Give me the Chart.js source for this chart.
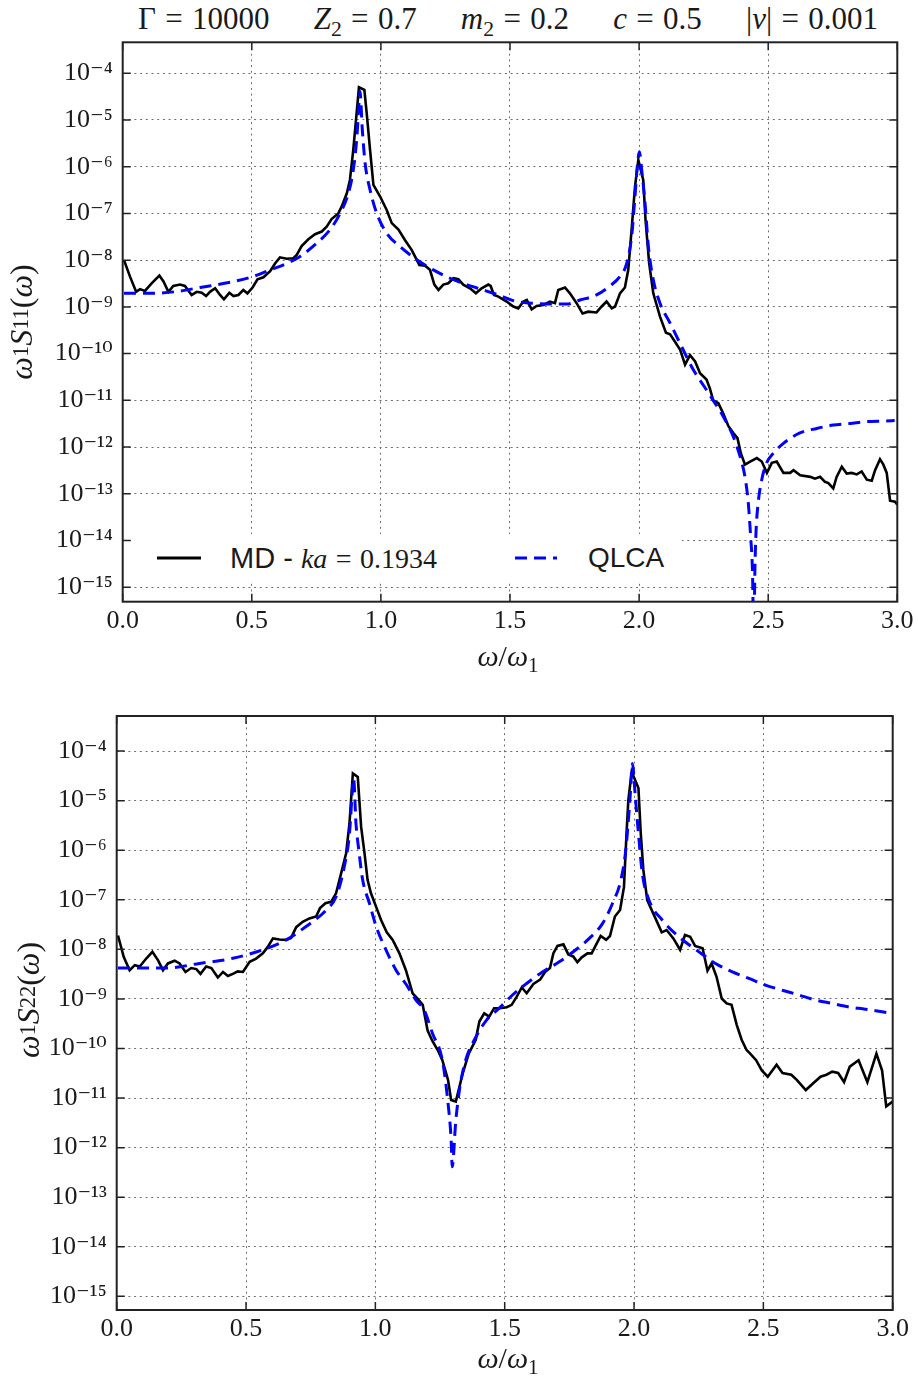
<!DOCTYPE html>
<html>
<head>
<meta charset="utf-8">
<script src="https://cdn.jsdelivr.net/npm/chart.js@4.4.1/dist/chart.umd.min.js"></script>
<style>
  body { margin: 0; background: #fff; }
  #page { position: relative; width: 918px; height: 1380px; overflow: hidden;
          font-family: "Liberation Serif", "DejaVu Serif", serif; color: #1a1a1a; }
  canvas { position: absolute; left: 0; }
  sub { font-size: 0.7em; vertical-align: -0.3em; line-height: 0; font-style: normal; }
  .eq { margin: 0 0.3em; }
  #title { position: absolute; left: 138px; width: 740px; top: 0; height: 38px;
           display: flex; justify-content: space-between; align-items: center;
           font-size: 31px; white-space: nowrap; }
  .xtitle { position: absolute; left: 358px; width: 300px; height: 34px; line-height: 34px;
            text-align: center; font-size: 30px; }
  .ytitle { position: absolute; width: 240px; height: 40px; display: flex;
            align-items: center; justify-content: center; transform: rotate(-90deg);
            font-size: 32px; white-space: nowrap; }
  #legend { position: absolute; left: 133px; top: 534px; width: 549px; height: 49px; background: #fff; }
  #legend svg { position: absolute; top: 20px; }
  #legend .lt { position: absolute; top: 6px; height: 36px; line-height: 36px; font-size: 28px; white-space: nowrap; }
  .sans { font-family: "Liberation Sans", "DejaVu Sans", sans-serif; font-size: 29px; }
</style>
</head>
<body>
<div id="page">
  <div id="title">
    <span>Γ<span class="eq">=</span>10000</span>
    <span><i>Z</i><sub>2</sub><span class="eq">=</span>0.7</span>
    <span><i>m</i><sub>2</sub><span class="eq">=</span>0.2</span>
    <span><i>c</i><span class="eq">=</span>0.5</span>
    <span>|<i>ν</i>|<span class="eq">=</span>0.001</span>
  </div>

  <canvas id="s11" width="918" height="680" style="top:0"></canvas>
  <canvas id="s22" width="918" height="690" style="top:690px"></canvas>

  <div class="ytitle" style="left:-99px; top:302px"><i>ω</i><sub>1</sub><i>S</i><sub>11</sub>(<i>ω</i>)</div>
  <div class="xtitle" style="top:639px"><i>ω</i>/<i>ω</i><sub>1</sub></div>
  <div class="ytitle" style="left:-92px; top:980px"><i>ω</i><sub>1</sub><i>S</i><sub>22</sub>(<i>ω</i>)</div>
  <div class="xtitle" style="top:1341px"><i>ω</i>/<i>ω</i><sub>1</sub></div>

  <div id="legend">
    <svg style="left:24px" width="44" height="8"><line x1="0" y1="4" x2="44" y2="4" stroke="#000" stroke-width="3"/></svg>
    <span class="lt" style="left:97px"><span class="sans">MD - </span><i>ka</i><span class="eq">=</span>0.1934</span>
    <svg style="left:382px" width="42" height="8"><line x1="0" y1="4" x2="42" y2="4" stroke="#0000ff" stroke-width="3" stroke-dasharray="12 7"/></svg>
    <span class="lt sans" style="left:455px">QLCA</span>
  </div>
</div>

<script>
// axis ticks (log decades on y, half-steps on x)
const yTickVals = [1e-15, 1e-14, 1e-13, 1e-12, 1e-11, 1e-10, 1e-9, 1e-8, 1e-7, 1e-6, 1e-5, 1e-4];
const yTickLabels = ['10⁻¹⁵', '10⁻¹⁴', '10⁻¹³', '10⁻¹²', '10⁻¹¹', '10⁻¹⁰', '10⁻⁹', '10⁻⁸', '10⁻⁷', '10⁻⁶', '10⁻⁵', '10⁻⁴'];
const xTickVals = [0, 0.5, 1, 1.5, 2, 2.5, 3];
const xTickLabels = ['0.0', '0.5', '1.0', '1.5', '2.0', '2.5', '3.0'];

// S11: MD spectrum
const s11MdW = [0.005, 0.028, 0.052, 0.067, 0.086, 0.112, 0.142, 0.158, 0.177, 0.196,
  0.222, 0.241, 0.267, 0.287, 0.306, 0.323, 0.338, 0.358, 0.377, 0.392,
  0.413, 0.429, 0.448, 0.467, 0.483, 0.503, 0.522, 0.545, 0.571, 0.590,
  0.609, 0.635, 0.661, 0.674, 0.693, 0.719, 0.745, 0.771, 0.790, 0.809,
  0.835, 0.848, 0.868, 0.880, 0.893, 0.906, 0.915, 0.936, 0.945, 0.958,
  0.971, 0.997, 1.022, 1.042, 1.068, 1.093, 1.119, 1.149, 1.171, 1.190,
  1.207, 1.223, 1.242, 1.261, 1.281, 1.300, 1.319, 1.345, 1.368, 1.390,
  1.416, 1.425, 1.438, 1.455, 1.487, 1.513, 1.532, 1.552, 1.565, 1.584,
  1.603, 1.629, 1.655, 1.674, 1.687, 1.713, 1.732, 1.758, 1.781, 1.803,
  1.835, 1.855, 1.874, 1.894, 1.907, 1.926, 1.945, 1.958, 1.971, 1.984,
  1.997, 2.016, 2.025, 2.039, 2.055, 2.081, 2.104, 2.120, 2.139, 2.159,
  2.178, 2.197, 2.217, 2.236, 2.261, 2.274, 2.287, 2.307, 2.326, 2.346,
  2.365, 2.381, 2.394, 2.410, 2.430, 2.456, 2.475, 2.495, 2.514, 2.533,
  2.559, 2.585, 2.598, 2.624, 2.663, 2.681, 2.701, 2.720, 2.733, 2.752,
  2.765, 2.785, 2.804, 2.823, 2.843, 2.862, 2.882, 2.901, 2.914, 2.933,
  2.946, 2.959, 2.972, 2.991, 3.000];
const s11MdS = [1.0e-8, 4.5e-9, 2.1e-9, 2.4e-9, 2.2e-9, 3.2e-9, 4.7e-9, 3.5e-9, 2.1e-9, 2.8e-9,
  3.0e-9, 2.8e-9, 1.8e-9, 2.1e-9, 2.0e-9, 1.7e-9, 2.1e-9, 2.5e-9, 1.8e-9, 1.45e-9,
  2.0e-9, 1.7e-9, 1.8e-9, 2.3e-9, 1.95e-9, 2.6e-9, 3.9e-9, 4.3e-9, 5.8e-9, 8.5e-9,
  1.15e-8, 1.07e-8, 1.1e-8, 1.3e-8, 2.0e-8, 2.8e-8, 3.6e-8, 4.1e-8, 5.2e-8, 7.6e-8,
  1.0e-7, 1.4e-7, 2.7e-7, 5.2e-7, 2.3e-6, 1.4e-5, 5.0e-5, 4.4e-5, 1.4e-5, 2.3e-6,
  4.1e-7, 2.3e-7, 1.2e-7, 6.2e-8, 4.5e-8, 2.7e-8, 1.66e-8, 7.9e-9, 7.6e-9, 6.2e-9,
  3.0e-9, 2.3e-9, 3.0e-9, 3.2e-9, 4.1e-9, 3.9e-9, 3.0e-9, 2.5e-9, 1.95e-9, 2.5e-9,
  3.0e-9, 2.8e-9, 1.8e-9, 1.66e-9, 1.3e-9, 1.02e-9, 9.3e-10, 1.3e-9, 1.4e-9, 8.9e-10,
  1.05e-9, 1.1e-9, 1.3e-9, 1.2e-9, 2.3e-9, 2.6e-9, 1.95e-9, 1.2e-9, 7.2e-10, 7.9e-10,
  7.6e-10, 1.02e-9, 1.3e-9, 9.3e-10, 1.02e-9, 1.95e-9, 2.6e-9, 6.2e-9, 4.5e-8, 3.7e-7,
  1.4e-6, 5.2e-7, 7.2e-8, 8.5e-9, 1.95e-9, 6.2e-10, 2.8e-10, 2.6e-10, 1.8e-10, 1.2e-10,
  5.8e-11, 9.3e-11, 6.8e-11, 3.8e-11, 2.8e-11, 1.8e-11, 1.0e-11, 8.7e-12, 5.2e-12, 2.8e-12,
  2.0e-12, 1.55e-12, 7.4e-13, 4.2e-13, 4.9e-13, 5.8e-13, 4.9e-13, 2.8e-13, 4.6e-13, 4.9e-13,
  2.8e-13, 2.8e-13, 3.2e-13, 2.5e-13, 2.3e-13, 2.1e-13, 2.3e-13, 1.8e-13, 1.7e-13, 1.3e-13,
  2.3e-13, 3.8e-13, 2.7e-13, 2.8e-13, 2.6e-13, 3.0e-13, 2.0e-13, 1.9e-13, 3.2e-13, 5.5e-13,
  4.2e-13, 2.8e-13, 7.1e-14, 6.8e-14, 5.8e-14];

// S11: QLCA prediction
const s11QlcaW = [0.005, 0.10, 0.20, 0.30, 0.43, 0.506, 0.571, 0.635, 0.687, 0.751,
  0.803, 0.842, 0.874, 0.893, 0.906, 0.917, 0.919, 0.928, 0.939, 0.958,
  0.984, 1.022, 1.074, 1.139, 1.203, 1.268, 1.332, 1.397, 1.455, 1.526,
  1.59, 1.655, 1.72, 1.771, 1.835, 1.887, 1.926, 1.952, 1.971, 1.984,
  1.994, 2.001, 2.010, 2.023, 2.036, 2.055, 2.081, 2.12, 2.165, 2.21,
  2.249, 2.287, 2.326, 2.365, 2.391, 2.410, 2.423, 2.432, 2.439, 2.444,
  2.449, 2.453, 2.461, 2.475, 2.494, 2.520, 2.559, 2.623, 2.688, 2.752,
  2.817, 2.882, 2.953, 2.99];
const s11QlcaS = [1.95e-9, 1.95e-9, 2.1e-9, 2.6e-9, 3.5e-9, 4.5e-9, 6.2e-9, 8.5e-9, 1.2e-8, 2.3e-8,
  4.5e-8, 1.0e-7, 2.7e-7, 8.5e-7, 3.7e-6, 3.2e-5, 4.1e-5, 6.2e-6, 1.17e-6, 3.2e-7,
  1.0e-7, 3.8e-8, 1.95e-8, 1.02e-8, 6.2e-9, 4.1e-9, 3.0e-9, 2.3e-9, 1.8e-9, 1.3e-9,
  1.2e-9, 1.15e-9, 1.15e-9, 1.4e-9, 1.8e-9, 2.8e-9, 4.5e-9, 8.5e-9, 3.2e-8, 2.3e-7,
  1.17e-6, 2.1e-6, 8.5e-7, 1.66e-7, 1.95e-8, 3.8e-9, 1.2e-9, 4.5e-10, 1.4e-10, 4.5e-11,
  2.1e-11, 1.0e-11, 4.5e-12, 1.66e-12, 6.3e-13, 2.3e-13, 6.3e-14, 1.2e-14, 2.3e-15, 1.0e-16,
  3.2e-15, 1.6e-14, 6.3e-14, 2.0e-13, 4.6e-13, 7.4e-13, 1.2e-12, 2.0e-12, 2.5e-12, 2.95e-12,
  3.2e-12, 3.5e-12, 3.6e-12, 3.7e-12];

// S22: MD spectrum
const s22MdW = [0.005, 0.027, 0.050, 0.070, 0.089, 0.115, 0.138, 0.160, 0.179, 0.198,
  0.224, 0.243, 0.266, 0.288, 0.308, 0.324, 0.346, 0.366, 0.391, 0.411,
  0.430, 0.449, 0.468, 0.488, 0.514, 0.539, 0.565, 0.584, 0.604, 0.629,
  0.655, 0.674, 0.694, 0.719, 0.745, 0.771, 0.786, 0.807, 0.829, 0.848,
  0.871, 0.887, 0.900, 0.913, 0.932, 0.945, 0.958, 0.970, 0.983, 1.003,
  1.022, 1.044, 1.067, 1.093, 1.118, 1.144, 1.163, 1.183, 1.202, 1.221,
  1.241, 1.259, 1.281, 1.293, 1.311, 1.338, 1.361, 1.388, 1.402, 1.421,
  1.440, 1.459, 1.479, 1.508, 1.527, 1.546, 1.566, 1.585, 1.611, 1.637,
  1.656, 1.675, 1.688, 1.704, 1.727, 1.746, 1.765, 1.781, 1.798, 1.820,
  1.836, 1.856, 1.871, 1.892, 1.907, 1.926, 1.946, 1.961, 1.971, 1.978,
  1.991, 2.004, 2.017, 2.026, 2.036, 2.051, 2.075, 2.107, 2.126, 2.152,
  2.178, 2.197, 2.217, 2.236, 2.265, 2.284, 2.300, 2.319, 2.339, 2.358,
  2.377, 2.397, 2.416, 2.435, 2.449, 2.472, 2.494, 2.517, 2.551, 2.574,
  2.608, 2.630, 2.664, 2.698, 2.721, 2.744, 2.766, 2.789, 2.812, 2.834,
  2.868, 2.902, 2.937, 2.959, 2.975, 3.000];
const s22MdS = [1.9e-8, 7.1e-9, 3.8e-9, 4.8e-9, 4.5e-9, 6.6e-9, 8.9e-9, 6.0e-9, 3.8e-9, 5.2e-9,
  5.9e-9, 5.2e-9, 3.5e-9, 4.2e-9, 4.0e-9, 3.2e-9, 4.5e-9, 4.2e-9, 2.7e-9, 3.5e-9,
  2.9e-9, 3.2e-9, 3.6e-9, 3.5e-9, 5.6e-9, 6.5e-9, 8.3e-9, 1.12e-8, 1.66e-8, 1.58e-8,
  1.55e-8, 1.7e-8, 2.8e-8, 3.6e-8, 4.2e-8, 4.6e-8, 6.8e-8, 8.5e-8, 9.1e-8, 1.35e-7,
  4.0e-7, 8.7e-7, 3.5e-6, 3.55e-5, 3.0e-5, 2.95e-6, 8.7e-7, 2.5e-7, 1.35e-7, 7.2e-8,
  3.9e-8, 2.2e-8, 1.55e-8, 8.3e-9, 3.8e-9, 1.3e-9, 1.02e-9, 7.6e-10, 2.3e-10, 1.4e-10,
  9.3e-11, 5.8e-11, 2.3e-11, 9.1e-12, 8.5e-12, 3.2e-11, 7.9e-11, 1.5e-10, 3.5e-10, 5.1e-10,
  4.4e-10, 6.5e-10, 6.5e-10, 6.8e-10, 7.6e-10, 1.1e-9, 1.7e-9, 1.3e-9, 2.0e-9, 2.45e-9,
  3.5e-9, 4.2e-9, 8.3e-9, 1.17e-8, 1.26e-8, 7.9e-9, 7.2e-9, 5.5e-9, 6.9e-9, 8.3e-9,
  8.3e-9, 1.32e-8, 1.86e-8, 1.55e-8, 1.86e-8, 4.6e-8, 6.2e-8, 1.8e-7, 2.2e-6, 1.02e-5,
  3.8e-5, 2.6e-5, 1.8e-5, 2.2e-6, 4.0e-7, 9.8e-8, 5.2e-8, 2.2e-8, 2.45e-8, 1.66e-8,
  9.8e-9, 1.95e-8, 1.8e-8, 1.17e-8, 1.05e-8, 3.7e-9, 5.2e-9, 2.8e-9, 1.02e-9, 8.1e-10,
  7.6e-10, 3.0e-10, 1.5e-10, 9.3e-11, 7.9e-11, 5.8e-11, 3.6e-11, 2.7e-11, 4.7e-11, 3.2e-11,
  2.95e-11, 2.3e-11, 1.45e-11, 2.1e-11, 2.7e-11, 2.95e-11, 3.4e-11, 3.2e-11, 2.1e-11, 4.3e-11,
  5.8e-11, 2.1e-11, 7.9e-11, 3.6e-11, 6.8e-12, 8.5e-12];

// S22: QLCA prediction
const s22QlcaW = [0.005, 0.19, 0.32, 0.449, 0.565, 0.655, 0.732, 0.810, 0.848, 0.880,
  0.900, 0.913, 0.916, 0.925, 0.936, 0.951, 0.977, 1.003, 1.041, 1.080,
  1.118, 1.157, 1.189, 1.221, 1.259, 1.281, 1.293, 1.297, 1.311, 1.327,
  1.349, 1.383, 1.429, 1.479, 1.530, 1.582, 1.646, 1.711, 1.775, 1.827,
  1.878, 1.917, 1.949, 1.968, 1.984, 1.994, 2.004, 2.017, 2.032, 2.058,
  2.109, 2.174, 2.251, 2.315, 2.380, 2.444, 2.508, 2.573, 2.637, 2.701,
  2.766, 2.830, 2.894, 2.959, 2.99];
const s22QlcaS = [4.2e-9, 4.2e-9, 5.2e-9, 6.6e-9, 9.8e-9, 1.55e-8, 2.9e-8, 6.2e-8, 1.15e-7, 4.7e-7,
  2.2e-6, 2.2e-5, 2.8e-5, 3.5e-6, 1.0e-6, 2.5e-7, 8.5e-8, 2.9e-8, 9.8e-9, 3.8e-9,
  2.0e-9, 9.5e-10, 5.9e-10, 2.0e-10, 5.8e-11, 7.8e-12, 1.4e-12, 4.1e-13, 3.5e-12, 1.7e-11,
  5.8e-11, 1.5e-10, 3.7e-10, 6.5e-10, 1.2e-9, 2.0e-9, 3.5e-9, 5.6e-9, 9.8e-9, 1.66e-8,
  3.3e-8, 8.5e-8, 2.5e-7, 1.0e-6, 1.02e-5, 5.6e-5, 1.4e-5, 2.2e-6, 3.4e-7, 9.8e-8,
  3.9e-8, 1.78e-8, 8.9e-9, 5.2e-9, 3.5e-9, 2.6e-9, 1.9e-9, 1.5e-9, 1.2e-9, 9.5e-10,
  8.1e-10, 6.9e-10, 6.2e-10, 5.5e-10, 5.2e-10];

const gridColor = '#6e6e6e';
const tickFont = { family: '"Liberation Serif", "DejaVu Serif", serif', size: 26 };

function toPoints(w, s) {
  return w.map((x, i) => ({ x: x, y: s[i] }));
}

// black frame round the plot area with inward tick marks on all four sides
const frame = {
  id: 'frame',
  afterDatasetsDraw(chart) {
    const { ctx, chartArea: a, scales } = chart;
    ctx.save();
    ctx.strokeStyle = '#222';
    ctx.lineWidth = 1.5;
    ctx.beginPath();
    scales.x.ticks.forEach(t => {
      const px = scales.x.getPixelForValue(t.value);
      ctx.moveTo(px, a.bottom); ctx.lineTo(px, a.bottom - 8);
      ctx.moveTo(px, a.top); ctx.lineTo(px, a.top + 8);
    });
    scales.y.ticks.forEach(t => {
      const py = scales.y.getPixelForValue(t.value);
      ctx.moveTo(a.left, py); ctx.lineTo(a.left + 8, py);
      ctx.moveTo(a.right, py); ctx.lineTo(a.right - 8, py);
    });
    ctx.stroke();
    ctx.lineWidth = 2;
    ctx.strokeRect(a.left, a.top, a.right - a.left, a.bottom - a.top);
    ctx.restore();
  }
};

function drawPanel(id, box, md, qlca, yMin, yMax) {
  const canvas = document.getElementById(id);
  return new Chart(canvas, {
    type: 'line',
    data: {
      datasets: [
        { label: 'MD', data: md, borderColor: '#000', borderWidth: 2.6,
          pointRadius: 0, tension: 0, order: 2 },
        { label: 'QLCA', data: qlca, borderColor: '#0000ff', borderWidth: 3,
          borderDash: [12, 7], pointRadius: 0, cubicInterpolationMode: 'monotone', order: 1 }
      ]
    },
    options: {
      responsive: false,
      animation: false,
      devicePixelRatio: 1,
      layout: { padding: { left: 0, top: box.top, right: canvas.width - box.right, bottom: 0 } },
      plugins: { legend: { display: false }, tooltip: { enabled: false } },
      scales: {
        x: {
          type: 'linear', min: 0, max: 3,
          afterBuildTicks: s => { s.ticks = xTickVals.map(v => ({ value: v })); },
          afterFit: s => { s.height = canvas.height - box.bottom; },
          grid: { color: gridColor, lineWidth: 1, drawTicks: false },
          border: { display: false, dash: [2, 3.7] },
          ticks: { callback: (v, i) => xTickLabels[i], padding: 4, color: '#1a1a1a',
                   font: tickFont, maxRotation: 0, autoSkip: false }
        },
        y: {
          type: 'logarithmic', min: yMin, max: yMax,
          afterBuildTicks: s => { s.ticks = yTickVals.map(v => ({ value: v })); },
          afterFit: s => { s.width = box.left; },
          grid: { color: gridColor, lineWidth: 1, drawTicks: false },
          border: { display: false, dash: [2, 3.7] },
          ticks: { callback: (v, i) => yTickLabels[i], padding: 10, color: '#1a1a1a',
                   font: tickFont, autoSkip: false }
        }
      }
    },
    plugins: [frame]
  });
}

drawPanel('s11', { left: 122.7, right: 897.3, top: 42.3, bottom: 601.7 },
  toPoints(s11MdW, s11MdS), toPoints(s11QlcaW, s11QlcaS), 4.9e-16, 4.6e-4);
drawPanel('s22', { left: 116.7, right: 892.7, top: 26, bottom: 620 },
  toPoints(s22MdW, s22MdS), toPoints(s22QlcaW, s22QlcaS), 5.3e-16, 5.1e-4);
</script>
</body>
</html>
